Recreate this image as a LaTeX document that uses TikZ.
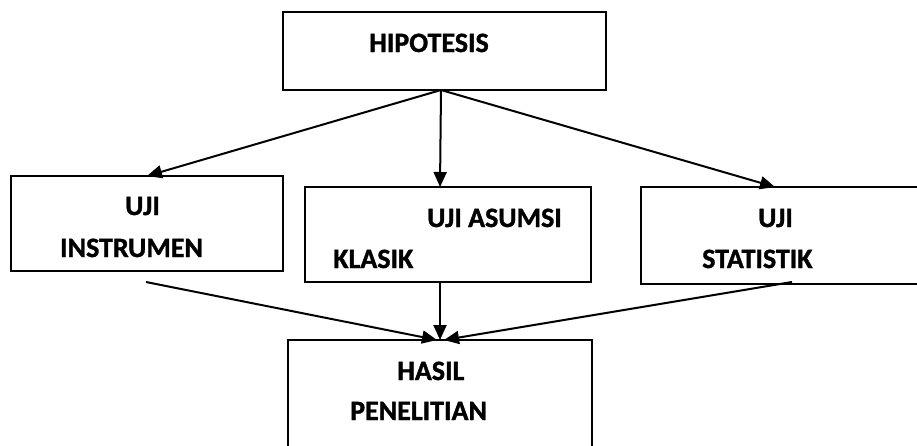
\documentclass[tikz,border=0pt]{standalone}
\usepackage{fontspec}
\setmainfont{Carlito}[BoldFeatures={FakeBold=1.2}]
\usetikzlibrary{arrows.meta}
\begin{document}
\begin{tikzpicture}[x=1pt,y=-1pt,
  box/.style={draw, line width=1.9pt, anchor=north west, inner sep=0pt, outer sep=0pt},
  lbl/.style={font=\fontsize{28}{34}\selectfont\bfseries, inner sep=0pt, anchor=base west},
  conn/.style={line width=2pt, -{Triangle[length=15pt,width=13pt]}}]
\useasboundingbox (0,0) rectangle (917,445);
\clip (0,0) rectangle (917,445);
% boxes
\node[box, minimum width=323pt, minimum height=78pt] (hip) at (283,12) {};
\node[box, minimum width=272pt, minimum height=95pt] (ins) at (11,176) {};
\node[box, minimum width=286pt, minimum height=95pt] (asu) at (305,187) {};
\node[box, minimum width=300pt, minimum height=97pt] (sta) at (641,187) {};
\node[box, minimum width=304pt, minimum height=130pt] (has) at (288,340) {};
% texts
\node[lbl] (thip) at (369,52) {HIPOTESIS};
\node[lbl] (tins1) at (125,215) {UJI};
\node[lbl] (tins2) at (60,257) {INSTRUMEN};
\node[lbl] (tasu1) at (427,227) {UJI ASUMSI};
\node[lbl] (tasu2) at (333,268) {KLASIK};
\node[lbl] (tsta1) at (758,227) {UJI};
\node[lbl] (tsta2) at (702,268) {STATISTIK};
\node[lbl] (thas1) at (397,380) {HASIL};
\node[lbl] (thas2) at (350,420) {PENELITIAN};
% connector points
\coordinate (hipout) at (441,90);
\coordinate (asuin) at (440,187);
\coordinate (stain) at (775,187);
\coordinate (insout) at (146,282);
\coordinate (asuout) at (440,282);
\coordinate (staout) at (792,282);
\coordinate (hasL) at (437,340);
\coordinate (hasM) at (440,340);
\coordinate (hasR) at (444,340);
% connectors
\draw[conn] (hipout) -- (ins.north);
\draw[conn] (hipout) -- (asuin);
\draw[conn] (hipout) -- (stain);
\draw[conn] (insout) -- (hasL);
\draw[conn] (asuout) -- (hasM);
\draw[conn] (staout) -- (hasR);
\end{tikzpicture}
\end{document}
